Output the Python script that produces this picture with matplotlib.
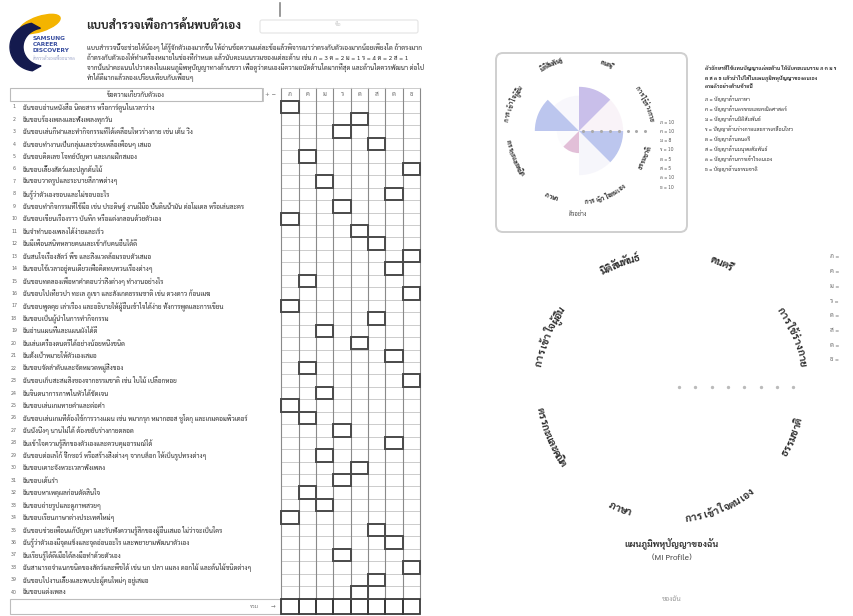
import unicodedata
import numpy as np
import matplotlib
matplotlib.use("Agg")
import matplotlib.pyplot as plt
from matplotlib import font_manager as fm
from matplotlib.patches import Rectangle, FancyBboxPatch, Ellipse, Polygon

# Thai-capable font, chosen by name from the installed ones
installed = {f.name for f in fm.fontManager.ttflist}
preferred = ["Sarabun", "Noto Sans Thai", "Noto Sans Thai Looped", "Loma", "Anuphan",
             "Bai Jamjuree", "Athiti"]
thai_font = next((n for n in preferred if n in installed), "DejaVu Sans")
plt.rcParams["font.family"] = [thai_font, "DejaVu Sans"]

# ---------------- data ----------------
codes = ["ภ", "ค", "ม", "ร", "ด", "ส", "ต", "ธ"]
intelligences = ["การใช้ร่างกาย", "ดนตรี", "มิติสัมพันธ์", "การเข้าใจผู้อื่น",
                 "ตรรกะและคณิต", "ภาษา", "การเข้าใจตนเอง", "ธรรมชาติ"]
legend_names = ["ปัญญาด้านภาษา", "ปัญญาด้านตรรกะและคณิตศาสตร์", "ปัญญาด้านมิติสัมพันธ์",
                "ปัญญาด้านร่างกายและการเคลื่อนไหว", "ปัญญาด้านดนตรี",
                "ปัญญาด้านมนุษยสัมพันธ์", "ปัญญาด้านการเข้าใจตนเอง", "ปัญญาด้านธรรมชาติ"]
example_scores = [10, 10, 8, 10, 5, 5, 10, 10]
example_alpha = [0.25, 1.0, 0.25, 1.0, 0.2, 1.0, 0.3, 1.0]
example_colors = ["#ead3e6", "#c9bfea", "#e6e2f4", "#bcc6ee", "#eeeef8", "#e2bfd8", "#e4e2f4", "#bcc6ee"]
radial_levels = [1, 3, 5, 7, 9, 11, 13, 15]
r_max = 16.3

items = [
    "ฉันชอบอ่านหนังสือ นิตยสาร หรือการ์ตูนในเวลาว่าง",
    "ฉันชอบร้องเพลงและฟังเพลงทุกวัน",
    "ฉันชอบเล่นกีฬาและทำกิจกรรมที่ได้เคลื่อนไหวร่างกาย เช่น เต้น วิ่ง",
    "ฉันชอบทำงานเป็นกลุ่มและช่วยเหลือเพื่อนๆ เสมอ",
    "ฉันชอบคิดเลข โจทย์ปัญหา และเกมฝึกสมอง",
    "ฉันชอบเลี้ยงสัตว์และปลูกต้นไม้",
    "ฉันชอบวาดรูปและระบายสีภาพต่างๆ",
    "ฉันรู้ว่าตัวเองชอบและไม่ชอบอะไร",
    "ฉันชอบทำกิจกรรมที่ใช้มือ เช่น ประดิษฐ์ งานฝีมือ ปั้นดินน้ำมัน ต่อโมเดล หรือเล่นละคร",
    "ฉันชอบเขียนเรื่องราว บันทึก หรือแต่งกลอนด้วยตัวเอง",
    "ฉันจำทำนองเพลงได้ง่ายและเร็ว",
    "ฉันมีเพื่อนสนิทหลายคนและเข้ากับคนอื่นได้ดี",
    "ฉันสนใจเรื่องสัตว์ พืช และสิ่งแวดล้อมรอบตัวเสมอ",
    "ฉันชอบใช้เวลาอยู่คนเดียวเพื่อคิดทบทวนเรื่องต่างๆ",
    "ฉันชอบทดลองเพื่อหาคำตอบว่าสิ่งต่างๆ ทำงานอย่างไร",
    "ฉันชอบไปเที่ยวป่า ทะเล ภูเขา และสังเกตธรรมชาติ เช่น ดวงดาว ก้อนเมฆ",
    "ฉันชอบพูดคุย เล่าเรื่อง และอธิบายให้ผู้อื่นเข้าใจได้ง่าย ทั้งการพูดและการเขียน",
    "ฉันชอบเป็นผู้นำในการทำกิจกรรม",
    "ฉันอ่านแผนที่และแผนผังได้ดี",
    "ฉันเล่นเครื่องดนตรีได้อย่างน้อยหนึ่งชนิด",
    "ฉันตั้งเป้าหมายให้ตัวเองเสมอ",
    "ฉันชอบจัดลำดับและจัดหมวดหมู่สิ่งของ",
    "ฉันชอบเก็บสะสมสิ่งของจากธรรมชาติ เช่น ใบไม้ เปลือกหอย",
    "ฉันจินตนาการภาพในหัวได้ชัดเจน",
    "ฉันชอบเล่นเกมทายคำและต่อคำ",
    "ฉันชอบเล่นเกมที่ต้องใช้การวางแผน เช่น หมากรุก หมากฮอส ซูโดกุ และเกมคอมพิวเตอร์",
    "ฉันนั่งนิ่งๆ นานไม่ได้ ต้องขยับร่างกายตลอด",
    "ฉันเข้าใจความรู้สึกของตัวเองและควบคุมอารมณ์ได้",
    "ฉันชอบต่อเลโก้ จิ๊กซอว์ หรือสร้างสิ่งต่างๆ จากบล็อก ให้เป็นรูปทรงต่างๆ",
    "ฉันชอบเคาะจังหวะเวลาฟังเพลง",
    "ฉันชอบเต้นรำ",
    "ฉันชอบหาเหตุผลก่อนตัดสินใจ",
    "ฉันชอบถ่ายรูปและดูภาพสวยๆ",
    "ฉันชอบเรียนภาษาต่างประเทศใหม่ๆ",
    "ฉันชอบช่วยเพื่อนแก้ปัญหา และรับฟังความรู้สึกของผู้อื่นเสมอ ไม่ว่าจะเป็นใคร",
    "ฉันรู้ว่าตัวเองมีจุดแข็งและจุดอ่อนอะไร และพยายามพัฒนาตัวเอง",
    "ฉันเรียนรู้ได้ดีเมื่อได้ลงมือทำด้วยตัวเอง",
    "ฉันสามารถจำแนกชนิดของสัตว์และพืชได้ เช่น นก ปลา แมลง ดอกไม้ และต้นไม้ชนิดต่างๆ",
    "ฉันชอบไปงานเลี้ยงและพบปะผู้คนใหม่ๆ อยู่เสมอ",
    "ฉันชอบแต่งเพลง",
]
answer_col = [0, 4, 3, 5, 1, 7, 2, 6, 3, 0, 4, 5, 7, 6, 1, 7, 0, 5, 2, 4,
              6, 1, 7, 2, 0, 1, 3, 6, 2, 4, 3, 1, 2, 0, 5, 6, 3, 7, 5, 4]

title = "แบบสำรวจเพื่อการค้นพบตัวเอง"
paragraph = [
    "แบบสำรวจนี้จะช่วยให้น้องๆ ได้รู้จักตัวเองมากขึ้น ให้อ่านข้อความแต่ละข้อแล้วพิจารณาว่าตรงกับตัวเองมากน้อยเพียงใด ถ้าตรงมาก",
    "ถ้าตรงกับตัวเองให้ทำเครื่องหมายในช่องที่กำหนด แล้วนับคะแนนรวมของแต่ละด้าน เช่น ภ = 3 ค = 2 ม = 1 ร = 4 ด = 2 ส = 1",
    "จากนั้นนำคะแนนไปวาดลงในแผนภูมิพหุปัญญาทางด้านขวา เพื่อดูว่าตนเองมีความถนัดด้านใดมากที่สุด และด้านใดควรพัฒนา ต่อไป",
    "ทำได้ดีมากแล้วลองเปรียบเทียบกับเพื่อนๆ",
]
header_text = "ข้อความเกี่ยวกับตัวเอง"
legend_header = ["ตัวอักษรที่ใช้แทนปัญญาแต่ละด้าน ให้นับคะแนนรวม ภ ค ม ร",
                 "ด ส ต ธ แล้วนำไปใส่ในแผนภูมิพหุปัญญาของตนเอง",
                 "ตามตัวอย่างด้านซ้ายนี้"]

# ---------------- figure ----------------
W, H = 854, 616
fig = plt.figure(figsize=(W / 100, H / 100), dpi=100)
ax = fig.add_axes([0, 0, 1, 1])
ax.set_xlim(0, W)
ax.set_ylim(H, 0)
ax.axis("off")

TXT = "#2a2a2a"

# logo
ax.add_patch(Ellipse((40, 24), 42, 15, angle=-18, color="#f4b400", zorder=2))
t = np.linspace(np.radians(100), np.radians(262), 60)
outer = np.c_[36 + 26 * np.cos(t), 47 - 24 * np.sin(t)]
inner = np.c_[44 + 21 * np.cos(t[::-1]), 47 - 19 * np.sin(t[::-1])]
ax.add_patch(Polygon(np.r_[outer, inner], closed=True, color="#141a4e", zorder=3))
for k, w in enumerate(["SAMSUNG", "CAREER", "DISCOVERY"]):
    ax.text(33, 39 + k * 6, w, fontsize=4.2, color="#3a4fa0", fontweight="bold",
            va="center", ha="left", family="DejaVu Sans")
ax.text(33, 59, "สำรวจตัวเองเพื่ออนาคต", fontsize=3.2, color="#9aa3c8", va="center")

ax.text(86, 26, title, fontsize=8.5, color="#2a2a2a", fontweight="bold", va="center")
ax.add_patch(FancyBboxPatch((260, 20), 158, 13, boxstyle="round,pad=0,rounding_size=2",
                            fc="none", ec="#e4e4e4", lw=0.8))
ax.text(335, 25, "ชื่อ", fontsize=4, color="#c8c8c8", va="center")
ax.plot([280, 280], [3, 16], color="#888", lw=1.2)

for k, line in enumerate(paragraph):
    ax.text(87, 47 + k * 10.2, line, fontsize=4.7, color=TXT, va="center")

# table geometry
x_text0, x_text1 = 10, 262
x_grid0, col_w, n_cols = 281.5, 17.3, len(codes)
y_head0, y_head1 = 88, 100.5
row_h = 12.45
n_rows = len(items)

ax.add_patch(Rectangle((x_text0, y_head0), x_text1 - x_text0, y_head1 - y_head0,
                       fc="none", ec="#bbbbbb", lw=0.8))
ax.text((x_text0 + x_text1) / 2, (y_head0 + y_head1) / 2, header_text, fontsize=4.6,
        color=TXT, ha="center", va="center")
ax.text(271, (y_head0 + y_head1) / 2, "+ −", fontsize=4, color="#777", ha="center", va="center",
        family="DejaVu Sans")
for c, code in enumerate(codes):
    ax.text(x_grid0 + (c + 0.5) * col_w, (y_head0 + y_head1) / 2, code, fontsize=4.6,
            color="#666", ha="center", va="center")

y_rows_end = y_head1 + n_rows * row_h
for r in range(n_rows + 1):
    y = y_head1 + r * row_h
    ax.plot([x_grid0, x_grid0 + n_cols * col_w], [y, y], color="#c4c4c4", lw=0.6, zorder=1)
ax.plot([x_grid0, x_grid0 + n_cols * col_w], [y_head0, y_head0], color="#c4c4c4", lw=0.6)
for c in range(n_cols + 1):
    x = x_grid0 + c * col_w
    ax.plot([x, x], [y_head0, y_rows_end], color="#8a8a8a", lw=0.8, zorder=1)
ax.plot([263, 263], [y_head0, y_head1], color="#bbb", lw=0.6)

for r, (txt, col) in enumerate(zip(items, answer_col)):
    yc = y_head1 + (r + 0.5) * row_h
    ax.text(14, yc, f"{r + 1}", fontsize=3.4, color="#666", ha="center", va="center",
            family="DejaVu Sans")
    ax.text(23, yc, txt, fontsize=4.7, color=TXT, ha="left", va="center")
    ax.add_patch(Rectangle((x_grid0 + col * col_w, y_head1 + r * row_h), col_w, row_h,
                           fc="none", ec="#4a4a4a", lw=1.4, zorder=4))

# total row
y_t0, y_t1 = 598.5, 614
ax.add_patch(Rectangle((x_text0, y_t0), x_grid0 - x_text0, y_t1 - y_t0, fc="none",
                       ec="#bdbdbd", lw=0.8))
ax.text(254, (y_t0 + y_t1) / 2, "รวม", fontsize=4, color="#777", ha="center", va="center")
ax.text(273, (y_t0 + y_t1) / 2, "→", fontsize=4, color="#777", ha="center", va="center",
        family="DejaVu Sans")
for c in range(n_cols):
    ax.add_patch(Rectangle((x_grid0 + c * col_w, y_t0), col_w, y_t1 - y_t0, fc="none",
                           ec="#3a3a3a", lw=1.3))

# ---- right side ----
ax.add_patch(FancyBboxPatch((496, 53), 191, 179, boxstyle="round,pad=0,rounding_size=7",
                            fc="none", ec="#cfcfcf", lw=1.4))


def clusters(s):
    out = []
    for ch in s:
        if out and unicodedata.category(ch) == "Mn":
            out[-1] += ch
        else:
            out.append(ch)
    return out


def polar_axes(cx, cy, R):
    pax = fig.add_axes([(cx - R) / W, 1 - (cy + R) / H, 2 * R / W, 2 * R / H],
                       projection="polar")
    pax.set_ylim(0, r_max)
    pax.set_xticks([])
    pax.set_yticks([])
    pax.grid(False)
    pax.spines["polar"].set_visible(False)
    pax.patch.set_alpha(0)
    return pax


def arc_labels(pax, R_px, fs):
    adv = fs * 100 / 72 * 0.55 / R_px
    for k, lab in enumerate(intelligences):
        th = (k + 0.5) * 2 * np.pi / len(intelligences)
        cl = clusters(lab)
        n = len(cl)
        top = np.sin(th) >= 0
        for i, ch in enumerate(cl):
            off = (i - (n - 1) / 2) * adv
            a = th - off if top else th + off
            rot = np.degrees(a) - 90 if top else np.degrees(a) + 90
            pax.text(a, r_max, ch, fontsize=fs, fontweight="bold", color="#2e2e2e",
                     rotation=rot, rotation_mode="anchor", ha="center", va="center",
                     clip_on=False)


theta = np.arange(len(codes)) * 2 * np.pi / len(codes) + np.pi / len(codes)

# example chart
sax = polar_axes(579, 131, 72)
for th, v, c, a in zip(theta, example_scores, example_colors, example_alpha):
    sax.bar(th, v, width=2 * np.pi / len(codes), color=c, alpha=a, lw=0)
sax.plot([0] * len(radial_levels), radial_levels, ls="", marker="o", ms=1.2, color="#aaa")
arc_labels(sax, 72, 4.5)
for k, (cd, v) in enumerate(zip(codes, example_scores)):
    ax.text(660, 122 + k * 9.3, f"{cd} = {v}", fontsize=3.6, color="#555", va="center")
ax.text(578, 214, "ตัวอย่าง", fontsize=4.2, color="#444", ha="center", va="center")

for k, line in enumerate(legend_header):
    ax.text(705, 68 + k * 9.5, line, fontsize=3.8, color=TXT, va="center", fontweight="bold")
for k, (cd, nm) in enumerate(zip(codes, legend_names)):
    ax.text(705, 99 + k * 10, f"{cd} = {nm}", fontsize=3.8, color=TXT, va="center")

# my chart (blank, to be filled in)
bax = polar_axes(671, 387, 133)
bax.plot([0] * len(radial_levels), radial_levels, ls="", marker="o", ms=1.4, color="#bbb")
arc_labels(bax, 133, 7.5)
for k, cd in enumerate(codes):
    ax.text(830, 257 + k * 14.7, f"{cd} =", fontsize=4.6, color="#666", va="center")
ax.text(672, 544, "แผนภูมิพหุปัญญาของฉัน", fontsize=6.5, color="#333", ha="center",
        va="center", fontweight="bold")
ax.text(672, 558, "(MI Profile)", fontsize=6, color="#444", ha="center", va="center")
ax.text(672, 599, "ของฉัน", fontsize=5, color="#999", ha="center", va="center")

fig.savefig("out.png", dpi=100)
